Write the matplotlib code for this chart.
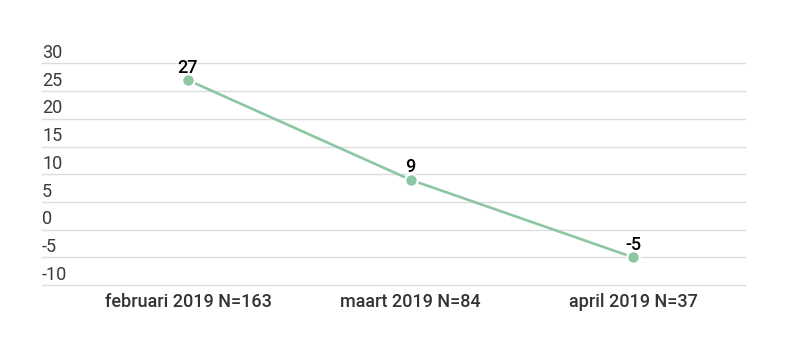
import matplotlib.pyplot as plt

plt.rcParams['font.family'] = ['Roboto', 'DejaVu Sans']

# data
categories = ['februari 2019 N=163', 'maart 2019 N=84', 'april 2019 N=37']
values = [27, 9, -5]
yticks = [30, 25, 20, 15, 10, 5, 0, -5, -10]

line_color = '#8cc6a3'

fig = plt.figure(figsize=(8.01, 3.54), dpi=100)
ax = fig.add_axes([42 / 801, 69 / 354, 703 / 801, 221.5 / 354])

x = list(range(len(categories)))
ax.plot(x, values, color=line_color, lw=1.9, marker='o', markersize=9,
        markerfacecolor=line_color, markeredgecolor='white', markeredgewidth=1.5,
        zorder=3, clip_on=False)

for xi, v in zip(x, values):
    ax.annotate(str(v), (xi, v), xytext=(0, 2.5), textcoords='offset points',
                ha='center', va='bottom', fontsize=13, fontweight='medium',
                color='black', zorder=4)

# gridlines with labels sitting on top of them
for t in yticks:
    ax.axhline(t, color='#dddddd', lw=1, zorder=1, clip_on=False)
    ax.annotate(str(t), (0, t), xycoords=('axes fraction', 'data'),
                xytext=(0, 1), textcoords='offset points',
                ha='left', va='bottom', fontsize=13, color='#3a3a3a')

ax.set_xlim(-0.656, 2.503)
ax.set_ylim(-10, 30)
ax.set_yticks([])
ax.set_xticks(x)
ax.set_xticklabels(categories, fontsize=13, fontweight='medium', color='#333333')
ax.tick_params(axis='x', length=0, pad=6)
for s in ax.spines.values():
    s.set_visible(False)

fig.savefig('out.png', dpi=100)
